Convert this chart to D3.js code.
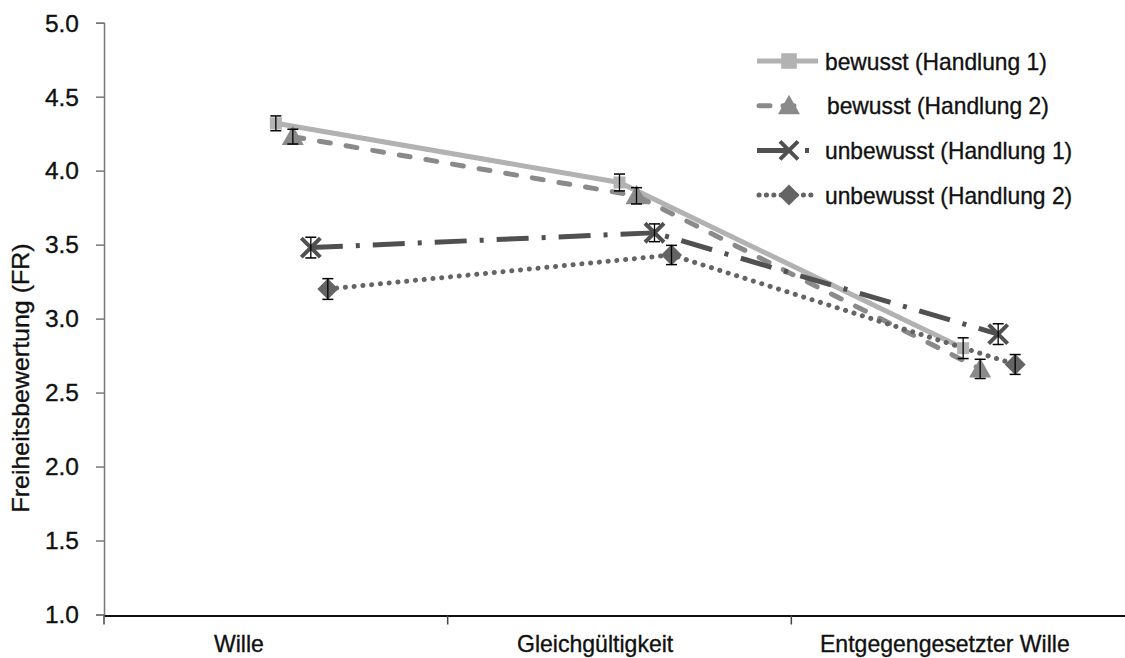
<!DOCTYPE html>
<html>
<head>
<meta charset="utf-8">
<script src="https://cdn.jsdelivr.net/npm/d3@7"></script>
<style>
  html, body { margin: 0; padding: 0; background: #fff; }
  svg { display: block; }
  .lbl { font-family: "Liberation Sans", Arial, sans-serif; fill: #111; stroke: #111; stroke-width: 0.35px; }
</style>
</head>
<body>
<svg id="chart" width="1125" height="658"></svg>
<script>
// Conditions on the x axis
const categories = ["Wille", "Gleichgültigkeit", "Entgegengesetzter Wille"];

// Series names (legend)
const seriesNames = [
  "bewusst (Handlung 1)",
  "bewusst (Handlung 2)",
  "unbewusst (Handlung 1)",
  "unbewusst (Handlung 2)"
];

// Mean freedom ratings per condition
const bewusst1   = [4.32, 3.92, 2.80];
const bewusst2   = [4.23, 3.83, 2.66];
const unbewusst1 = [3.48, 3.58, 2.895];
const unbewusst2 = [3.20, 3.43, 2.69];

// Standard errors
const bewusst1Err   = [0.05, 0.057, 0.07];
const bewusst2Err   = [0.05, 0.055, 0.065];
const unbewusst1Err = [0.07, 0.06, 0.07];
const unbewusst2Err = [0.07, 0.065, 0.067];

const yTicks = [1.0, 1.5, 2.0, 2.5, 3.0, 3.5, 4.0, 4.5, 5.0];

const svg = d3.select("#chart");

const plotLeft = 104, plotRight = 1135, plotTop = 22.7, plotBottom = 614.5;

const x = d3.scaleBand().domain(categories).range([plotLeft, plotRight]).paddingInner(0).paddingOuter(0);
const y = d3.scaleLinear().domain([1, 5]).range([plotBottom, plotTop]);
// left edges of the category captions
const xLabel = d3.scalePoint().domain(categories).range([214, 820]);

// slightly narrowed text
function condense(sel, factor) {
  sel.each(function () {
    const w = this.getComputedTextLength();
    d3.select(this).attr("textLength", w * factor).attr("lengthAdjust", "spacingAndGlyphs");
  });
}

const series = [
  { name: seriesNames[0], values: bewusst1, err: bewusst1Err, color: "#b2b2b2", dash: null, cap: "butt",
    legend: { x1: 757, x2: 818, dash: null }, marker: "square", offset: 0 },
  { name: seriesNames[1], values: bewusst2, err: bewusst2Err, color: "#8a8a8a", dash: "11,16", cap: "round",
    legend: { x1: 759, x2: 806, dash: "11,13" }, marker: "triangle", offset: 17 },
  { name: seriesNames[2], values: unbewusst1, err: unbewusst1Err, color: "#505050", dash: "32,13,4,13", cap: "butt",
    legend: { x1: 757, x2: 811, dash: "30,18,4,30" }, marker: "cross", offset: 35 },
  { name: seriesNames[3], values: unbewusst2, err: unbewusst2Err, color: "#646464", dash: "0.1,8.7", cap: "round",
    legend: { x1: 759, x2: 818, dash: "0.1,7.3" }, marker: "diamond", offset: 52 }
];

const cx = (c, s) => x(c) + x.bandwidth() / 2 + s.offset;

// Y axis
const yAxis = d3.axisLeft(y).tickValues(yTicks).tickFormat(d3.format(".1f")).tickSize(8).tickPadding(17);
const gy = svg.append("g").attr("transform", `translate(${plotLeft},0)`).call(yAxis);
gy.select(".domain").attr("stroke", "#777").attr("stroke-width", 1.5);
gy.selectAll(".tick line").attr("stroke", "#777").attr("stroke-width", 1.5);
gy.selectAll(".tick text")
  .attr("class", "lbl")
  .attr("font-size", 24.5).attr("dy", "0.34em");

// X axis
const xAxis = d3.axisBottom(x).tickSize(0).tickFormat("");
const gx = svg.append("g").attr("transform", `translate(0,${plotBottom + 1})`).call(xAxis);
gx.select(".domain").attr("stroke", "#111").attr("stroke-width", 1.8);
gx.selectAll(".tick").remove();
// band boundary ticks
const boundaries = categories.map(c => x(c)).concat([x.range()[1]]);
gx.selectAll("line.bt").data(boundaries).enter().append("line")
  .attr("class", "bt")
  .attr("x1", d => d).attr("x2", d => d)
  .attr("y1", 0).attr("y2", 9)
  .attr("stroke", "#444").attr("stroke-width", 1.5);
gx.selectAll("text.cat").data(categories).enter().append("text")
  .attr("class", "cat lbl")
  .attr("x", d => xLabel(d))
  .attr("y", 36.5)
  .attr("text-anchor", "start")
  .attr("font-size", 24)
  .text(d => d)
  .call(condense, 0.96);

// Y axis title
svg.append("text")
  .attr("class", "lbl")
  .attr("transform", `translate(29,378) rotate(-90)`)
  .attr("text-anchor", "middle")
  .attr("font-size", 24)
  .text("Freiheitsbewertung (FR)")
  .call(condense, 1.04);

// Lines
const line = d3.line().x(d => d.x).y(d => d.y);
series.forEach(s => {
  const pts = categories.map((c, i) => ({ x: cx(c, s), y: y(s.values[i]) }));
  svg.append("path")
    .attr("d", line(pts))
    .attr("fill", "none")
    .attr("stroke", s.color)
    .attr("stroke-width", 5)
    .attr("stroke-linecap", s.cap)
    .attr("stroke-dasharray", s.dash);
});

// Marker drawing (k scales the symbol)
function drawMarker(g, type, color, px, py, k) {
  k = k || 1;
  if (type === "square") {
    const h = 6 * k;
    g.append("rect").attr("x", px - h).attr("y", py - h).attr("width", 2 * h).attr("height", 2 * h).attr("fill", color);
  } else if (type === "triangle") {
    const w = 11 * k, t = 11 * k, b = 8.5 * k;
    g.append("path").attr("d", `M${px},${py - t}L${px + w},${py + b}L${px - w},${py + b}Z`).attr("fill", color);
  } else if (type === "diamond") {
    const r = 10.5 * k;
    g.append("path").attr("d", `M${px},${py - r}L${px + r},${py}L${px},${py + r}L${px - r},${py}Z`).attr("fill", color);
  } else if (type === "cross") {
    const r = 9.5 * k;
    g.append("path").attr("d", `M${px - r},${py - r}L${px + r},${py + r}M${px + r},${py - r}L${px - r},${py + r}`)
      .attr("stroke", color).attr("stroke-width", 4).attr("fill", "none");
  }
}

// Markers
series.forEach(s => {
  const g = svg.append("g");
  categories.forEach((c, i) => {
    drawMarker(g, s.marker, s.color, cx(c, s), y(s.values[i]));
  });
});
// Error bars
series.forEach(s => {
  const g = svg.append("g");
  categories.forEach((c, i) => {
    const px = cx(c, s);
    const y1 = y(s.values[i] + s.err[i]), y2 = y(s.values[i] - s.err[i]);
    g.append("line").attr("x1", px).attr("x2", px).attr("y1", y1).attr("y2", y2).attr("stroke", "#000").attr("stroke-width", 1.3);
    [y1, y2].forEach(yy => g.append("line").attr("x1", px - 5.5).attr("x2", px + 5.5).attr("y1", yy).attr("y2", yy).attr("stroke", "#000").attr("stroke-width", 1.5));
  });
});

// Legend
const legend = svg.append("g");
const legY0 = 61, legStep = 44.7;
const legendScale = [1.3, 1.0, 0.95, 1.0];
series.forEach((s, i) => {
  const ly = legY0 + i * legStep;
  const g = legend.append("g");
  g.append("line").attr("x1", s.legend.x1).attr("x2", s.legend.x2).attr("y1", ly).attr("y2", ly)
    .attr("stroke", s.color).attr("stroke-width", 5)
    .attr("stroke-linecap", s.cap)
    .attr("stroke-dasharray", s.legend.dash);
  drawMarker(g, s.marker, s.color, 789, ly, legendScale[i]);
  g.append("text").attr("class", "lbl")
    .attr("x", i === 1 ? 827 : 825).attr("y", ly).attr("dy", "0.36em")
    .attr("font-size", 24)
    .text(s.name)
    .call(condense, 0.95);
});
</script>
</body>
</html>
